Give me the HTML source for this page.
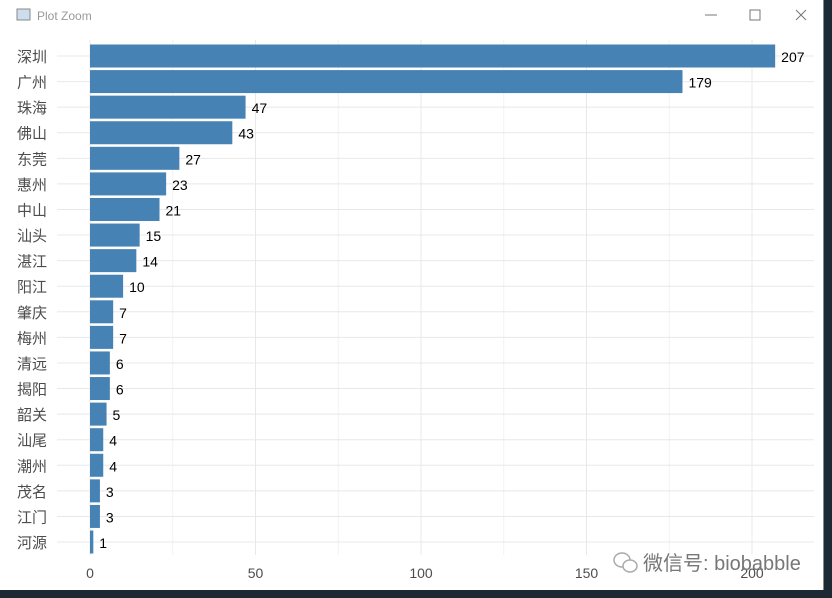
<!DOCTYPE html>
<html><head><meta charset="utf-8"><style>
body{margin:0;width:832px;height:598px;overflow:hidden;background:#1e2a33;font-family:"Liberation Sans","Noto Sans CJK SC",sans-serif;}
#win{position:absolute;left:0;top:0;width:823px;height:590px;background:#fff;border-right:1px solid #888;}
</style></head><body>
<div id="win">
<svg width="832" height="598" style="position:absolute;left:0;top:0">
<g>
<rect x="17" y="9" width="13" height="11" fill="#cde" stroke="#888"/>
<text x="37" y="20" font-size="12" fill="#999">Plot Zoom</text>
<line x1="705" y1="15" x2="717" y2="15" stroke="#777"/>
<rect x="750" y="10" width="10" height="10" fill="none" stroke="#777"/>
<path d="M796 10 L806 20 M806 10 L796 20" stroke="#777"/>
</g>
<g id="grid"></g><g id="bars"></g><g id="labels"></g>
<g>
<ellipse cx="622" cy="560" rx="8" ry="7" fill="none" stroke="#aaa" stroke-width="1.5"/>
<ellipse cx="630" cy="566" rx="7" ry="6" fill="#fff" stroke="#aaa" stroke-width="1.5"/>
<text x="643" y="570" font-size="20" fill="#777">微信号: biobabble</text>
</g>
</svg></div>
<script>
const cities=["深圳","广州","珠海","佛山","东莞","惠州","中山","汕头","湛江","阳江","肇庆","梅州","清远","揭阳","韶关","汕尾","潮州","茂名","江门","河源"];
const counts=[207,179,47,43,27,23,21,15,14,10,7,7,6,6,5,4,4,3,3,1];
const ticks=[0,50,100,150,200];
const NS="http://www.w3.org/2000/svg";
const x=v=>90+v*3.31, y=i=>56+i*25.58;
const L=57,R=814,T=40,B=555;
function mk(t,a,p){const e=document.createElementNS(NS,t);for(const k in a)e.setAttribute(k,a[k]);p.appendChild(e);return e;}
const g=document.getElementById('grid'),b=document.getElementById('bars'),lb=document.getElementById('labels');
for(let v=25;v<=225;v+=50){if(x(v)<R){const l=mk('line',{x1:x(v),x2:x(v),y1:T,y2:B,stroke:'#f2f2f2'},g);

}}
ticks.forEach(v=>{const l=mk('line',{x1:x(v),x2:x(v),y1:T,y2:B,stroke:'#e8e8e8'},g);


const t=mk('text',{x:x(v),y:578,'font-size':14,fill:'#4d4d4d','text-anchor':'middle'},lb);t.textContent=v;

});
cities.forEach((c,i)=>{const l=mk('line',{x1:L,x2:R,y1:y(i),y2:y(i),stroke:'#e8e8e8'},g);


const r=mk('rect',{x:x(0),y:y(i)-11.5,width:x(counts[i])-x(0),height:23,fill:'#4682b4'},b);


const t=mk('text',{x:x(counts[i])+6,y:y(i)+6,'font-size':14,fill:'#000'},lb);t.textContent=counts[i];


const n=mk('text',{x:17,y:y(i)+6,'font-size':15,fill:'#4d4d4d'},lb);n.textContent=c;

});
</script>
</body></html>
